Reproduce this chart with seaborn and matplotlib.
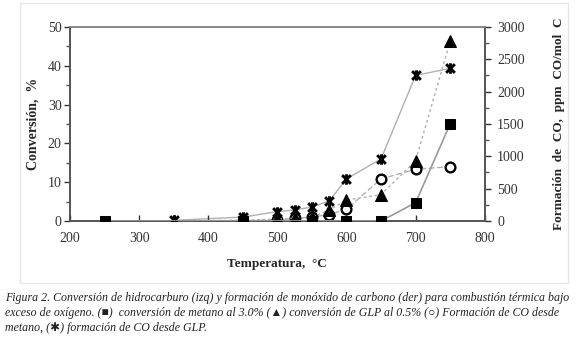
import numpy as np
import pandas as pd
import matplotlib
matplotlib.use("Agg")
import matplotlib.pyplot as plt
from matplotlib.path import Path
from matplotlib.patches import Rectangle
import seaborn as sns

# datos
temp_conv_ch4 = [250, 450, 550, 600, 650, 700, 750]
conv_ch4 = [0.0, 0.0, 0.0, 0.0, 0.0, 4.7, 25.0]

temp_conv_glp = [350, 450, 500, 525, 550, 575, 600, 650, 700, 750]
conv_glp = [0.0, 0.2, 0.5, 0.7, 1.0, 2.8, 5.4, 6.8, 15.5, 46.3]

temp_co_ch4 = [450, 500, 525, 550, 575, 600, 650, 700, 750]
co_ch4 = [0, 20, 40, 60, 100, 180, 650, 800, 840]

temp_co_glp = [350, 450, 500, 525, 550, 575, 600, 650, 700, 750]
co_glp = [10, 60, 145, 170, 215, 310, 650, 960, 2250, 2360]

x_ticks = [200, 300, 400, 500, 600, 700, 800]

caption = [
    "Figura 2. Conversión de hidrocarburo (izq) y formación de monóxido de carbono (der) para combustión térmica bajo",
    "exceso de oxígeno. (\u25a0)  conversión de metano al 3.0% (\u25b2) conversión de GLP al 0.5% (\u25cb) Formación de CO desde",
    "metano, (\u2731) formación de CO desde GLP.",
]

sns.set_style("white")
plt.rcParams['font.family'] = ['Liberation Serif', 'DejaVu Serif']

# marcador estrella tipo Excel (X con barra vertical)
star = Path([(-1, -1), (1, 1), (-1, 1), (1, -1), (0, -1.2), (0, 1.2)],
            [Path.MOVETO, Path.LINETO, Path.MOVETO, Path.LINETO, Path.MOVETO, Path.LINETO])

fig = plt.figure(figsize=(5.8, 3.41), dpi=100)
ax = fig.add_axes([0.1207, 0.352, 0.715, 0.569])
ax2 = ax.twinx()

df1 = pd.DataFrame({"T": temp_conv_ch4, "v": conv_ch4})
df2 = pd.DataFrame({"T": temp_conv_glp, "v": conv_glp})
df3 = pd.DataFrame({"T": temp_co_ch4, "v": co_ch4})
df4 = pd.DataFrame({"T": temp_co_glp, "v": co_glp})

sns.lineplot(data=df3, x="T", y="v", ax=ax2, color="#b0b0b0", lw=1, ls=(0, (4, 2)),
             marker="o", ms=7, mfc="white", mec="black", mew=1.7, zorder=3)
sns.lineplot(data=df4, x="T", y="v", ax=ax2, color="#b0b0b0", lw=1,
             marker=star, ms=7.5, mec="black", mew=2.1, zorder=4)
sns.lineplot(data=df2, x="T", y="v", ax=ax, color="#b0b0b0", lw=1, ls=(0, (2, 2)),
             marker="^", ms=8, mfc="black", mec="black", zorder=4)
sns.lineplot(data=df1, x="T", y="v", ax=ax, color="#9a9a9a", lw=1.2,
             marker="s", ms=7, mfc="black", mec="black", zorder=5)

ax.set_zorder(ax2.get_zorder() + 1)
ax.patch.set_visible(False)

ax.set_xlim(200, 800)
ax.set_ylim(0, 50)
ax2.set_ylim(0, 3000)
ax.set_xticks(x_ticks)
ax.set_yticks(range(0, 51, 10))
ax.set_yticks(range(5, 50, 10), minor=True)
ax2.set_yticks(range(0, 3001, 500))
ax2.set_yticks(range(250, 3000, 500), minor=True)

for a in (ax, ax2):
    for s in a.spines.values():
        s.set_color("#555555")
        s.set_linewidth(1.2)
    a.spines["top"].set_color("#888888")
    a.tick_params(which="major", length=4, width=1, labelsize=10, colors="#333333", pad=2)
    a.tick_params(which="minor", length=3, width=1, colors="#555555")
    a.set_xlabel("")
    a.set_ylabel("")
ax.tick_params(axis="y", which="both", direction="out", left=True)
ax.tick_params(axis="x", which="both", direction="in", bottom=True, pad=8)
ax2.tick_params(axis="y", which="both", direction="out", right=True, pad=5)

ax.set_xlabel("Temperatura,  °C", fontsize=9.5, fontweight="bold", labelpad=9)
ax.set_ylabel("Conversión,  %", fontsize=10, fontweight="bold", labelpad=6)
ax2.set_ylabel("Formación  de  CO,  ppm  CO/mol  C", fontsize=9.5, fontweight="bold",
               rotation=90, labelpad=20)

fig.patches.append(Rectangle((0.035, 0.17), 0.945, 0.82, transform=fig.transFigure,
                             fill=False, ec="#e6e6e6", lw=1))

for i, line in enumerate(caption):
    fig.text(0.009, 0.118 - i * 0.044, line, fontsize=8.55, style="italic",
             color="#222222", family=['Liberation Serif', 'DejaVu Sans'])

fig.savefig("out.png", dpi=100)
